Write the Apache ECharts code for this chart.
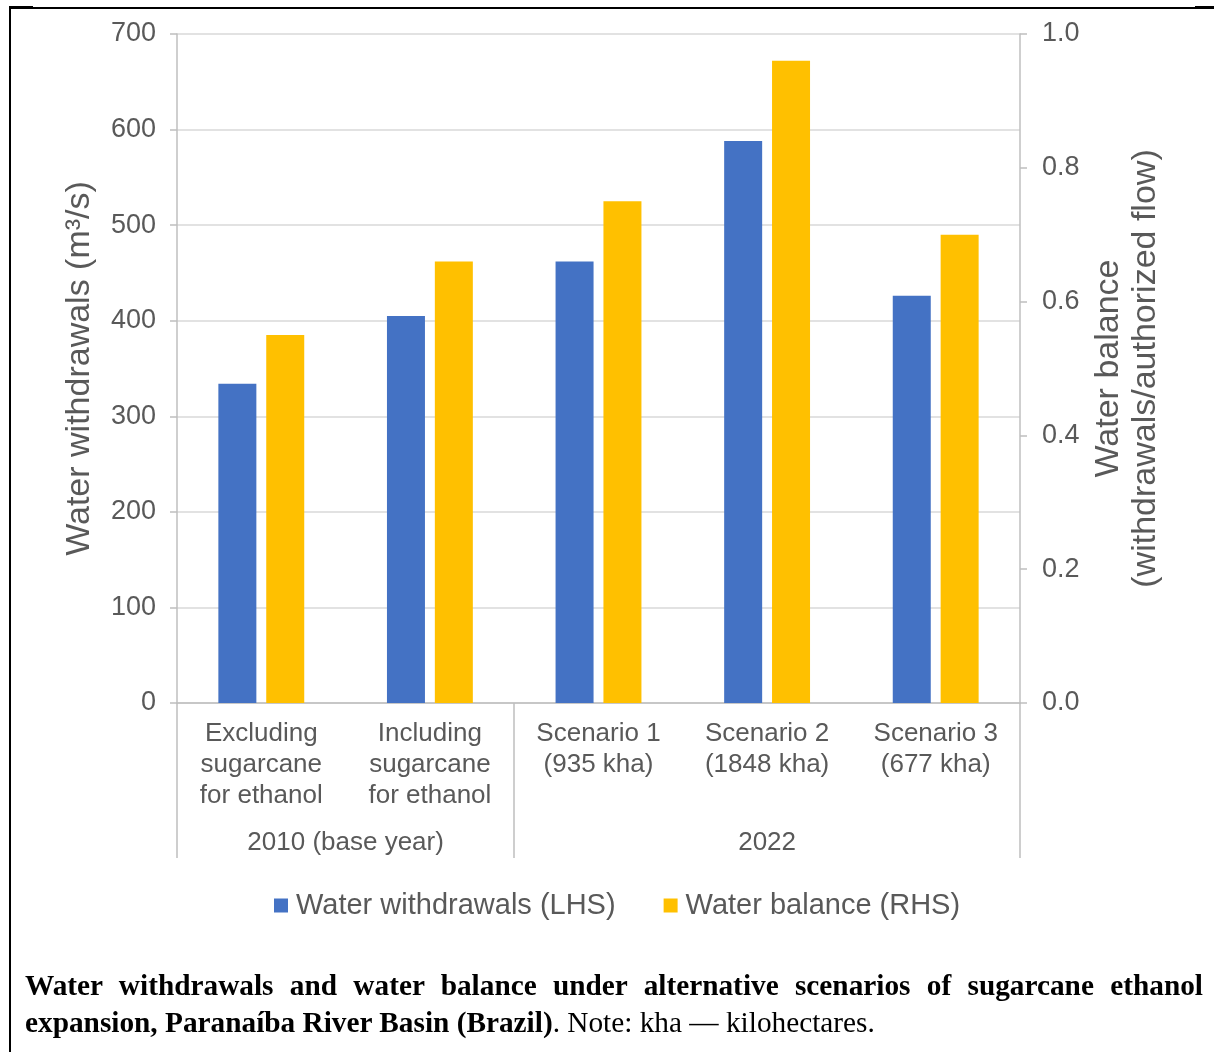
<!DOCTYPE html>
<html>
<head>
<meta charset="utf-8">
<title>Water withdrawals and water balance</title>
<script src="https://cdn.jsdelivr.net/npm/echarts@6/dist/echarts.min.js"></script>
<style>
  html, body { margin: 0; padding: 0; background: #fff; }
  #wrap { position: relative; width: 1214px; height: 1052px; overflow: hidden; }
  #chart { position: absolute; left: 0; top: 0; width: 1214px; height: 1052px; }
  .rule { position: absolute; background: #000; }
  #caption {
    position: absolute; left: 25px; top: 967px; width: 1178px;
    font-family: "Liberation Serif", "Times New Roman", serif;
    font-size: 29.3px; line-height: 37px; color: #000;
  }
  #caption .full { text-align: justify; text-align-last: justify; }
</style>
</head>
<body>
<div id="wrap">
  <div id="chart"></div>
  <!-- table frame around the figure -->
  <div class="rule" style="left:9px; top:7px; width:1186px; height:1.5px;"></div>
  <div class="rule" style="left:9px; top:6px; width:24px; height:3px;"></div>
  <div class="rule" style="left:1195px; top:6px; width:19px; height:3px;"></div>
  <div class="rule" style="left:9px; top:6px; width:2px; height:1046px;"></div>
  <div id="caption">
    <div class="full"><b>Water withdrawals and water balance under alternative scenarios of sugarcane ethanol</b></div>
    <div><b>expansion, Paranaíba River Basin (Brazil)</b>. Note: kha — kilohectares.</div>
  </div>
</div>
<script>
// Categories (inner level) and their grouping (outer level)
const categories = [
  'Excluding\nsugarcane\nfor ethanol',
  'Including\nsugarcane\nfor ethanol',
  'Scenario 1\n(935 kha)',
  'Scenario 2\n(1848 kha)',
  'Scenario 3\n(677 kha)'
];
const groupNames = ['2010 (base year)', '2022'];
const groupSizes = [2, 3];

// Series values
const withdrawals = [334, 405, 462, 588, 426];     // m³/s, left axis
const balance = [0.55, 0.66, 0.75, 0.96, 0.70];     // ratio, right axis

// Axis ticks
const leftTicks = { min: 0, max: 700, interval: 100 };
const rightTicks = { min: 0, max: 1.0, interval: 0.2 };

// Outer-level boundaries and centres in category units
const groupEdges = [0];
groupSizes.forEach(n => groupEdges.push(groupEdges[groupEdges.length - 1] + n));
const groupCenters = groupSizes.map((n, i) => groupEdges[i] + n / 2);

const TXT = '#595959';
const FONT = '"Liberation Sans", Arial, sans-serif';

const chart = echarts.init(document.getElementById('chart'), null, { renderer: 'canvas' });
chart.setOption({
  backgroundColor: 'transparent',
  animation: false,
  textStyle: { fontFamily: FONT, color: TXT },
  grid: { left: 177, right: 194, top: 34, bottom: 349, containLabel: false },
  legend: {
    left: 269, top: 886,
    itemWidth: 14, itemHeight: 14, itemGap: 48,
    icon: 'rect',
    textStyle: { fontFamily: FONT, fontSize: 29, color: TXT, padding: [0, 0, 0, 3] },
    data: ['Water withdrawals (LHS)', 'Water balance (RHS)']
  },
  xAxis: [
    {
      type: 'category',
      data: categories,
      position: 'bottom',
      axisLine: { show: true, lineStyle: { color: '#BFBFBF', width: 1.5 } },
      axisTick: { show: false },
      axisLabel: {
        interval: 0, margin: 15, fontSize: 26, lineHeight: 31,
        color: TXT, fontFamily: FONT, align: 'center'
      },
      splitLine: { show: false }
    },
    {
      type: 'value',
      position: 'bottom',
      min: 0, max: categories.length,
      axisLine: { show: false },
      axisTick: {
        show: true, inside: false, length: 155,
        customValues: groupEdges,
        lineStyle: { color: '#BFBFBF', width: 1.5 }
      },
      axisLabel: {
        show: true, margin: 124, fontSize: 26, lineHeight: 31,
        color: TXT, fontFamily: FONT,
        customValues: groupCenters,
        formatter: v => {
          const i = groupCenters.findIndex(c => Math.abs(c - v) < 1e-6);
          return i >= 0 ? groupNames[i] : '';
        }
      },
      splitLine: { show: false }
    }
  ],
  yAxis: [
    {
      type: 'value', position: 'left',
      min: leftTicks.min, max: leftTicks.max, interval: leftTicks.interval,
      name: 'Water withdrawals (m³/s)',
      nameLocation: 'middle', nameGap: 80,
      nameTextStyle: { fontSize: 34, color: TXT, fontFamily: FONT },
      axisLine: { show: true, lineStyle: { color: '#BFBFBF', width: 1.5 } },
      axisTick: { show: true, inside: false, length: 7, lineStyle: { color: '#BFBFBF', width: 1.5 } },
      axisLabel: { fontSize: 27, color: TXT, fontFamily: FONT, margin: 21 },
      splitLine: { show: true, lineStyle: { color: '#D9D9D9', width: 1.5 } }
    },
    {
      type: 'value', position: 'right',
      min: rightTicks.min, max: rightTicks.max, interval: rightTicks.interval,
      name: 'Water balance\n(withdrawals/authorized flow)',
      nameLocation: 'middle', nameGap: 66,
      nameTextStyle: { fontSize: 34, lineHeight: 37, color: TXT, fontFamily: FONT },
      axisLine: { show: true, lineStyle: { color: '#BFBFBF', width: 1.5 } },
      axisTick: { show: true, inside: false, length: 7, lineStyle: { color: '#BFBFBF', width: 1.5 } },
      axisLabel: { fontSize: 27, color: TXT, fontFamily: FONT, margin: 22, formatter: v => v.toFixed(1) },
      splitLine: { show: false }
    }
  ],
  series: [
    {
      name: 'Water withdrawals (LHS)', type: 'bar',
      xAxisIndex: 0, yAxisIndex: 0,
      data: withdrawals,
      barWidth: 38, barGap: '26%',
      itemStyle: { color: '#4472C4' }
    },
    {
      name: 'Water balance (RHS)', type: 'bar',
      xAxisIndex: 0, yAxisIndex: 1,
      data: balance,
      barWidth: 38, barGap: '26%',
      itemStyle: { color: '#FFC000' }
    }
  ]
});
</script>
</body>
</html>
